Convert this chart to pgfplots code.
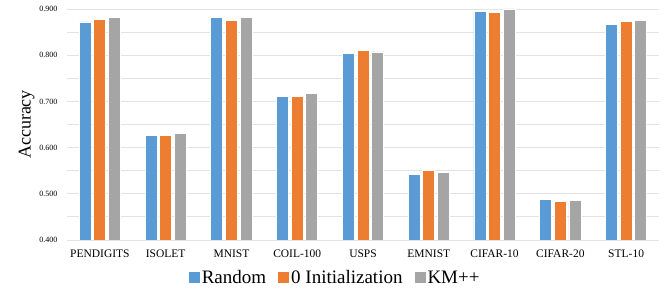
\documentclass[border=0pt]{standalone}
\usepackage{pgfplots}
\pgfplotsset{compat=1.18}
\usepackage{fontspec}
\setmainfont{Liberation Serif}
\definecolor{cblue}{HTML}{5B9BD5}
\definecolor{corange}{HTML}{ED7D31}
\definecolor{cgray}{HTML}{A5A5A5}
\definecolor{grid}{HTML}{E3E3E3}
\begin{document}
\begin{tikzpicture}
\useasboundingbox (-67pt,-56pt) rectangle (597pt,240pt);
\begin{axis}[
  scale only axis,
  width=592pt, height=231pt,
  xmin=-0.5, xmax=8.5,
  ymin=0.4, ymax=0.9,
  ytick={0.4,0.5,0.6,0.7,0.8,0.9},
  minor y tick num=1,
  ymajorgrids, yminorgrids,
  major grid style={draw=grid, line width=0.9pt},
  minor grid style={draw=grid, line width=0.9pt},
  axis line style={draw=none},
  major tick length=0pt, minor tick length=0pt,
  xtick={0,...,8},
  xticklabels={PENDIGITS,ISOLET,MNIST,COIL-100,USPS,EMNIST,CIFAR-10,CIFAR-20,STL-10},
  x tick label style={font=\fontsize{11.5}{12}\selectfont, yshift=-6pt},
  y tick label style={font=\fontsize{8}{9}\selectfont, xshift=-6pt},
  /pgf/number format/assume math mode=true,
  yticklabel style={/pgf/number format/.cd, fixed, fixed zerofill, precision=3},
  ylabel={Accuracy},
  ylabel style={font=\fontsize{18}{20}\selectfont, at={(axis description cs:-0.068,0.5)}, anchor=center},
  ybar=2.6pt, bar width=12pt,
  every axis plot/.append style={draw=white, line width=0.8pt},
  legend style={at={(axis description cs:0.453,-0.165)}, anchor=center, draw=none, legend columns=3,
    font=\fontsize{19}{20}\selectfont, /tikz/every even column/.append style={column sep=10pt}},
  legend image code/.code={\fill[#1, draw=none] (0pt,-5pt) rectangle (11pt,6pt);},
]
\addplot[fill=cblue] coordinates {(0,0.872) (1,0.627) (2,0.881) (3,0.711) (4,0.804) (5,0.542) (6,0.894) (7,0.487) (8,0.867)};
\addplot[fill=corange] coordinates {(0,0.878) (1,0.627) (2,0.876) (3,0.710) (4,0.811) (5,0.551) (6,0.893) (7,0.483) (8,0.873)};
\addplot[fill=cgray] coordinates {(0,0.881) (1,0.631) (2,0.881) (3,0.717) (4,0.807) (5,0.547) (6,0.900) (7,0.485) (8,0.875)};
\legend{Random, 0 Initialization, KM++}
\end{axis}
\end{tikzpicture}
\end{document}
